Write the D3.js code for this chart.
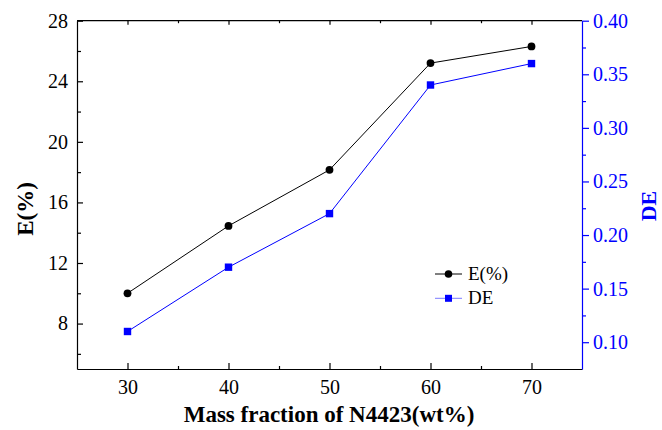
<!DOCTYPE html>
<html><head><meta charset="utf-8">
<script src="https://cdn.jsdelivr.net/npm/d3@7"></script>
<style>body{margin:0;background:#fff}svg{display:block}</style>
</head><body>
<svg id="c" width="662" height="430"></svg>
<script>
const massFraction = [30, 40, 50, 60, 70];
const eValues = [10.0, 14.45, 18.15, 25.2, 26.3];
const deValues = [0.11, 0.17, 0.22, 0.34, 0.36];
const xTicks = [30, 40, 50, 60, 70];
const eTicks = [8, 12, 16, 20, 24, 28];
const deTicks = [0.10, 0.15, 0.20, 0.25, 0.30, 0.35, 0.40];

const svg = d3.select("#c");
const L = 77, R = 582, T = 20.7, B = 369;
const font = "'Liberation Serif','Times New Roman',serif";
const blue = "#0000ff";

const x = d3.scaleLinear().domain([25, 75]).range([L, R]);
const yE = d3.scaleLinear().domain([5, 28]).range([B, T]);
const yD = d3.scaleLinear().domain([0.075, 0.40]).range([B, T]);

// frame top
svg.append("line").attr("x1", L).attr("x2", R).attr("y1", T).attr("y2", T).attr("stroke", "#000").attr("stroke-width", 1.2);

// bottom axis (inward ticks)
const gx = svg.append("g").attr("transform", `translate(0,${B})`)
  .call(d3.axisBottom(x).tickValues(xTicks).tickSize(-6).tickPadding(11).tickSizeOuter(0));
gx.append("g").call(d3.axisBottom(x).tickValues([35,45,55,65]).tickSize(-3).tickFormat("").tickSizeOuter(0)).select(".domain").remove();
// top ticks
const gt = svg.append("g").attr("transform", `translate(0,${T})`)
  .call(d3.axisTop(x).tickValues(xTicks).tickSize(-4).tickFormat("").tickSizeOuter(0));
gt.append("g").call(d3.axisTop(x).tickValues([35,45,55,65]).tickSize(-2.5).tickFormat("").tickSizeOuter(0)).select(".domain").remove();
gt.select(".domain").remove();

// left axis
const gl = svg.append("g").attr("transform", `translate(${L},0)`)
  .call(d3.axisLeft(yE).tickValues(eTicks).tickSize(-6).tickPadding(9).tickSizeOuter(0));
gl.append("g").call(d3.axisLeft(yE).tickValues([6,10,14,18,22,26]).tickSize(-4).tickFormat("").tickSizeOuter(0)).select(".domain").remove();

// right axis (outward ticks, blue)
const gr = svg.append("g").attr("transform", `translate(${R},0)`)
  .call(d3.axisRight(yD).tickValues(deTicks).tickSize(7).tickPadding(4).tickFormat(d3.format(".2f")).tickSizeOuter(0));
gr.append("g").call(d3.axisRight(yD).tickValues([0.125,0.175,0.225,0.275,0.325,0.375]).tickSize(4).tickFormat("").tickSizeOuter(0)).select(".domain").remove();

[gx, gt, gl].forEach(g => { g.selectAll("path,line").attr("stroke", "#000").attr("stroke-width", 1.2); });
gr.selectAll("path,line").attr("stroke", blue).attr("stroke-width", 1.2);
svg.selectAll("g").attr("font-family", null).attr("font-size", null);
svg.selectAll(".tick text").style("font-family", font).style("font-size", "20px");
gx.selectAll(".tick text").attr("fill", "#000");
gl.selectAll(".tick text").attr("fill", "#000");
gr.selectAll(".tick text").attr("fill", blue);

// lines
const lineE = d3.line().x((d, i) => x(massFraction[i])).y(d => yE(d));
const lineD = d3.line().x((d, i) => x(massFraction[i])).y(d => yD(d));
svg.append("path").attr("d", lineE(eValues)).attr("fill", "none").attr("stroke", "#000").attr("stroke-width", 1);
svg.append("path").attr("d", lineD(deValues)).attr("fill", "none").attr("stroke", blue).attr("stroke-width", 1);
svg.selectAll(".pe").data(eValues).enter().append("circle")
  .attr("cx", (d, i) => x(massFraction[i])).attr("cy", d => yE(d)).attr("r", 3.9).attr("fill", "#000");
svg.selectAll(".pd").data(deValues).enter().append("rect")
  .attr("x", (d, i) => x(massFraction[i]) - 3.7).attr("y", d => yD(d) - 3.7)
  .attr("width", 7.4).attr("height", 7.4).attr("fill", blue);

// axis titles
svg.append("text").attr("x", 329).attr("y", 422).attr("text-anchor", "middle")
  .style("font-family", font).attr("font-weight", "bold").style("font-size", "23px").text("Mass fraction of N4423(wt%)");
svg.append("text").attr("transform", `translate(33,209) rotate(-90)`).attr("text-anchor", "middle")
  .style("font-family", font).attr("font-weight", "bold").style("font-size", "23px").text("E(%)");
svg.append("text").attr("transform", `translate(656,206) rotate(-90)`).attr("text-anchor", "middle")
  .style("font-family", font).attr("font-weight", "bold").style("font-size", "22px").attr("fill", blue).text("DE");

// legend
const leg = [{label: "E(%)", c: "#000", shape: "circle"}, {label: "DE", c: blue, shape: "square", lc: "#7b7bff"}];
leg.forEach((d, i) => {
  const y = 274 + i * 24.3;
  svg.append("line").attr("x1", 435).attr("x2", 462).attr("y1", y).attr("y2", y).attr("stroke", d.lc || d.c).attr("stroke-width", 1);
  if (d.shape === "circle") svg.append("circle").attr("cx", 448.5).attr("cy", y).attr("r", 3.8).attr("fill", d.c);
  else svg.append("rect").attr("x", 445).attr("y", y - 3.5).attr("width", 7).attr("height", 7).attr("fill", d.c);
  svg.append("text").attr("x", 468).attr("y", y + 6).style("font-family", font).style("font-size", "19px").text(d.label);
});
</script>
</body></html>
